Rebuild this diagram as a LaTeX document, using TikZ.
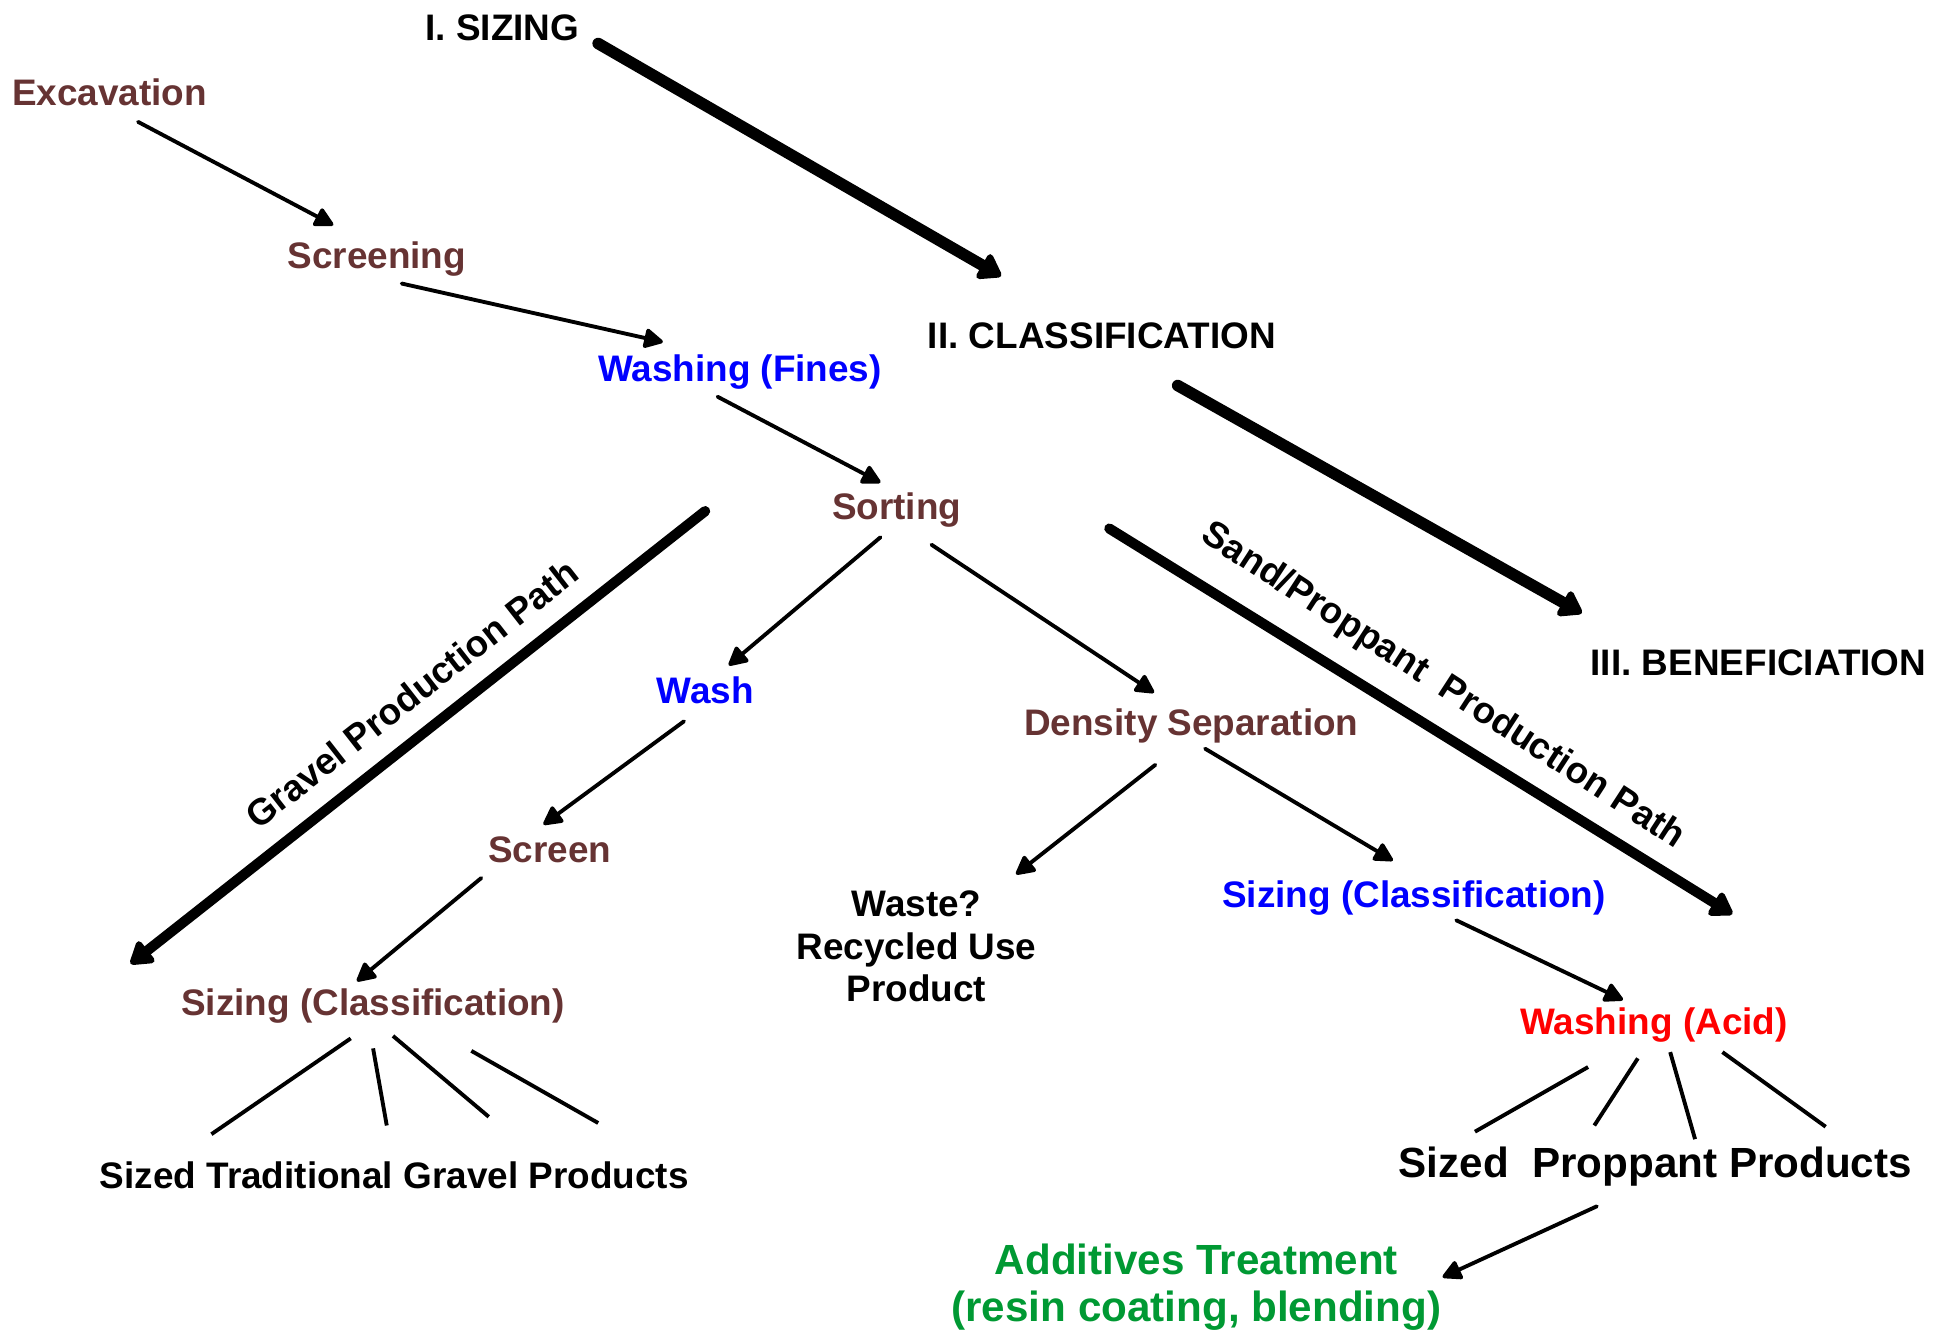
\documentclass[tikz,border=0pt]{standalone}
\usepackage{fontspec}
\setmainfont{Liberation Sans}
\usetikzlibrary{arrows.meta}
\definecolor{brn}{RGB}{102,51,51}
\definecolor{grn}{RGB}{0,153,51}
\definecolor{blu}{RGB}{0,0,255}
\definecolor{rd}{RGB}{255,0,0}
\begin{document}
\begin{tikzpicture}[x=0.012436cm,y=-0.012436cm,
  lbl/.style={inner sep=0pt,font=\fontsize{10.5}{12}\selectfont\bfseries},
  big/.style={inner sep=0pt,font=\fontsize{12}{13.5}\selectfont\bfseries},
  arr/.style={line width=1.1pt,line cap=round,-{Triangle[length=6pt,width=6pt,round]}},
  heavy/.style={line width=3.3pt,line cap=round,-{Triangle[length=7pt,width=9pt,round]}},
  path/.style={line width=2.9pt,line cap=round,-{Triangle[length=7pt,width=8.5pt,round]}},
  ln/.style={line width=1.1pt}]
\useasboundingbox (0,0) rectangle (1568,1073);
% nodes
\node[lbl] (sizing) at (404,22) {I. SIZING};
\node[lbl,brn] (exc) at (88,74) {Excavation};
\node[lbl,brn] (scr) at (303,208) {Screening};
\node[lbl,blu] (wf) at (595,299) {Washing (Fines)};
\node[lbl] (cls) at (886,270) {II. CLASSIFICATION};
\node[lbl,brn] (sort) at (721,410) {Sorting};
\node[lbl,blu] (wash) at (567,555) {Wash};
\node[lbl,brn] (dens) at (958,584) {Density Separation};
\node[lbl] (ben) at (1414,533) {III. BENEFICIATION};
\node[lbl,brn] (screen) at (442,683) {Screen};
\node[lbl,brn] (szb) at (300,809) {Sizing (Classification)};
\node[lbl,align=center] (waste) at (737,761) {Waste?\\Recycled Use\\Product};
\node[lbl,blu] (szc) at (1137,722) {Sizing (Classification)};
\node[lbl,rd] (acid) at (1330,824) {Washing (Acid)};
\node[lbl] (gprod) at (317,945) {Sized Traditional Gravel Products};
\node[big] (pprod) at (1331,938) {Sized\ \ Proppant Products};
\node[big,grn,align=center] (add) at (962,1035) {Additives Treatment\\(resin coating, blending)};
\node[lbl,rotate=38] (glbl) at (331,558) {Gravel Production Path};
\node[lbl,rotate=-33] (slbl) at (1160,552) {Sand/Proppant\ \ Production Path};
% thin arrows
\draw[arr] ([shift={(23,24)}]exc.center) -- ([shift={(-35,-27)}]scr.center);
\draw[arr] ([shift={(20,20)}]scr.center) -- ([shift={(-62,-24)}]wf.center);
\draw[arr] ([shift={(-18,20)}]wf.center) -- ([shift={(-13,-22)}]sort.center);
\draw[arr] ([shift={(-13,22)}]sort.center) -- ([shift={(19,-20)}]wash.center);
\draw[arr] ([shift={(28,28)}]sort.center) -- ([shift={(-30,-27)}]dens.center);
\draw[arr] ([shift={(-17,25)}]wash.center) -- ([shift={(-5,-20)}]screen.center);
\draw[arr] ([shift={(-29,31)}]dens.center) -- ([shift={(80,-58)}]waste.center);
\draw[arr] ([shift={(11,18)}]dens.center) -- ([shift={(-17,-30)}]szc.center);
\draw[arr] ([shift={(-55,23)}]screen.center) -- ([shift={(-13,-20)}]szb.center);
\draw[arr] ([shift={(34,18)}]szc.center) -- ([shift={(-25,-20)}]acid.center);
\draw[arr] ([shift={(-47,32)}]pprod.center) -- ([shift={(198,-8)}]add.center);
% heavy arrows
\draw[heavy] ([shift={(77,13)}]sizing.center) -- ([shift={(-81,-48)}]cls.center);
\draw[heavy] ([shift={(61,40)}]cls.center) -- ([shift={(-142,-40)}]ben.center);
\draw[path] ([shift={(-154,1)}]sort.center) -- ([shift={(-195,-34)}]szb.center);
\draw[path] ([shift={(171,15)}]sort.center) -- ([shift={(63,-89)}]acid.center);
% product fan lines
\draw[ln] ([shift={(-18,26)}]szb.center) -- ([shift={(-147,-33)}]gprod.center);
\draw[ln] ([shift={(0,34)}]szb.center) -- ([shift={(-6,-40)}]gprod.center);
\draw[ln] ([shift={(16,24)}]szb.center) -- ([shift={(76,-47)}]gprod.center);
\draw[ln] ([shift={(79,36)}]szb.center) -- ([shift={(164,-42)}]gprod.center);
\draw[ln] ([shift={(-53,34)}]acid.center) -- ([shift={(-145,-28)}]pprod.center);
\draw[ln] ([shift={(-13,27)}]acid.center) -- ([shift={(-49,-33)}]pprod.center);
\draw[ln] ([shift={(13,22)}]acid.center) -- ([shift={(32,-22)}]pprod.center);
\draw[ln] ([shift={(55,22)}]acid.center) -- ([shift={(137,-32)}]pprod.center);
\end{tikzpicture}
\end{document}
